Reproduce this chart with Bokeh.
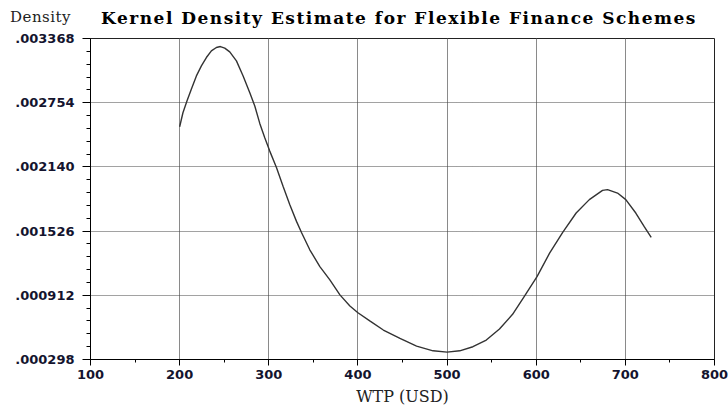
from bokeh.plotting import figure
from bokeh.models import FixedTicker, Range1d, Div
from bokeh.layouts import column
from bokeh.embed import file_html
from bokeh.resources import INLINE

# Kernel density estimate of willingness to pay (USD)
wtp = [200, 203.7, 208.2, 213.1, 218.8, 224.4, 230, 235.6, 241.2, 245.7,
       250.6, 256.2, 263.7, 271.2, 278.7, 284.3, 289.9, 295.5, 301.1, 308.6,
       316, 323.6, 331.1, 336.7, 346, 357.3, 368.5, 379.8, 391, 400,
       413.7, 428.5, 447.2, 465.8, 484.3, 500, 514.2, 529, 544, 558.8,
       573.5, 586.5, 600.9, 615, 629.9, 644.8, 659.6, 674.4, 680, 691.2,
       700.5, 711.7, 721, 729]
density = [0.002524, 0.002658, 0.002770, 0.002883, 0.003010, 0.003106,
           0.003186, 0.003250, 0.003282, 0.003291, 0.003276, 0.003240,
           0.003154, 0.003010, 0.002850, 0.002722, 0.002556, 0.002418,
           0.002291, 0.002134, 0.001955, 0.001779, 0.001619, 0.001513,
           0.001347, 0.001187, 0.001060, 0.000916, 0.000810, 0.000745,
           0.000665, 0.000580, 0.000499, 0.000426, 0.000381, 0.000369,
           0.000381, 0.000420, 0.000484, 0.000590, 0.000730, 0.000900,
           0.001091, 0.001315, 0.001516, 0.001699, 0.001827, 0.001916,
           0.001923, 0.001890, 0.001827, 0.001699, 0.001571, 0.001466]

x_ticks = [100, 200, 300, 400, 500, 600, 700, 800]
x_minor = [150, 250, 350, 450, 550, 650, 750]
y_ticks = [0.000298, 0.000912, 0.001526, 0.002140, 0.002754, 0.003368]
y_tick_labels = [".000298", ".000912", ".001526", ".002140", ".002754", ".003368"]

title_text = "Kernel Density Estimate for Flexible Finance Schemes"
x_title = "WTP (USD)"
y_title = "Density"

# five sub-intervals between neighbouring density ticks
y_minor = []
for lo, hi in zip(y_ticks[:-1], y_ticks[1:]):
    step = (hi - lo) / 5
    y_minor += [lo + k * step for k in range(1, 5)]

# heading strip: y-variable caption at the left, bold title centred
heading = Div(
    text=(
        '<div style="position:relative;width:728px;height:30px;">'
        '<span style="position:absolute;left:10px;top:7px;white-space:nowrap;'
        "letter-spacing:0.5px;font-family:'DejaVu Serif';font-size:15px;"
        f'color:#222222;">{y_title}</span>'
        '<span style="position:absolute;left:399px;top:6px;white-space:nowrap;'
        "letter-spacing:1.5px;transform:translateX(-50%);"
        "font-family:'DejaVu Serif';font-weight:bold;"
        f'font-size:17px;color:#000000;">{title_text}</span>'
        "</div>"
    ),
    width=728, height=30, margin=0,
)

p = figure(width=728, height=380, output_backend="svg", toolbar_location=None,
           x_range=Range1d(x_ticks[0], x_ticks[-1]),
           y_range=Range1d(y_ticks[0], y_ticks[-1]),
           min_border_left=90, min_border_right=14,
           min_border_top=8, min_border_bottom=51, margin=0)
p.background_fill_color = "white"
p.border_fill_color = "white"
p.outline_line_color = "#222222"
p.outline_line_width = 1

label_color = "#14142e"

# x axis
xa = p.xaxis[0]
xa.ticker = FixedTicker(ticks=x_ticks, minor_ticks=x_minor)
xa.axis_line_color = "black"
xa.major_tick_in = 0
xa.major_tick_out = 6
xa.minor_tick_in = 0
xa.minor_tick_out = 3
xa.major_label_standoff = 4
xa.major_label_text_font = "DejaVu Sans"
xa.major_label_text_font_style = "bold"
xa.major_label_text_font_size = "13px"
xa.major_label_text_color = label_color
xa.axis_label = x_title
xa.axis_label_text_font = "DejaVu Serif"
xa.axis_label_text_font_style = "normal"
xa.axis_label_text_font_size = "16px"
xa.axis_label_text_color = "#222222"
xa.axis_label_standoff = 5

# y axis
ya = p.yaxis[0]
ya.ticker = FixedTicker(ticks=y_ticks, minor_ticks=y_minor)
ya.major_label_overrides = dict(zip(y_ticks, y_tick_labels))
ya.axis_line_color = "black"
ya.major_tick_in = 0
ya.major_tick_out = 8
ya.minor_tick_in = 0
ya.minor_tick_out = 4
ya.major_label_standoff = 8
ya.major_label_text_font = "DejaVu Sans"
ya.major_label_text_font_style = "bold"
ya.major_label_text_font_size = "13px"
ya.major_label_text_color = label_color

# grid: solid vertical lines, dotted horizontal lines
p.xgrid.grid_line_color = "#8a8a8a"
p.xgrid.grid_line_width = 1
p.ygrid.grid_line_color = "#444444"
p.ygrid.grid_line_dash = "1 1"
p.ygrid.grid_line_width = 1

p.line(wtp, density, line_color="#333333", line_width=1.4)

layout = column(heading, p, spacing=0, margin=0)
open("out.html", "w").write(file_html(layout, INLINE))
